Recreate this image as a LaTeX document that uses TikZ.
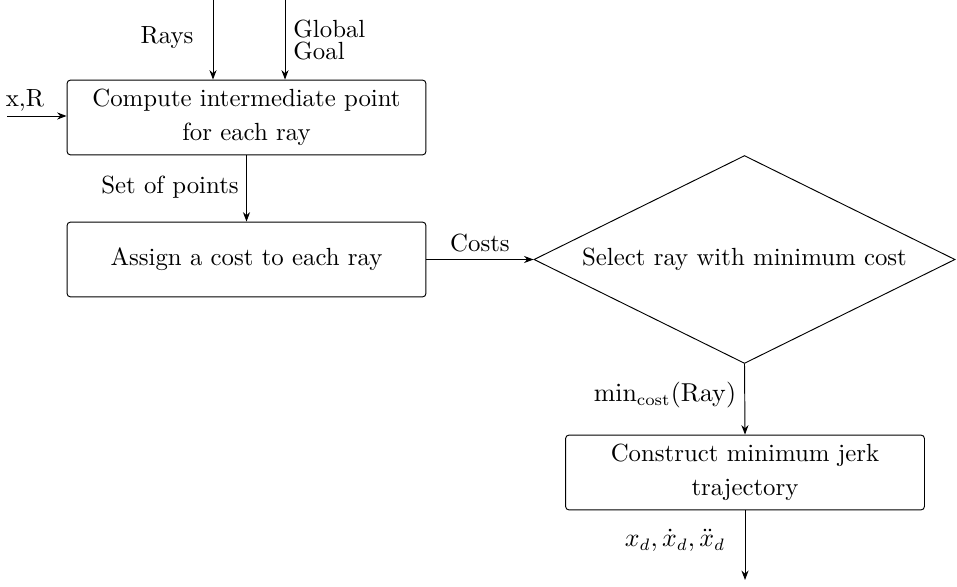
\documentclass[tikz,border=0pt]{standalone}
\usetikzlibrary{shapes.geometric,arrows.meta}
\begin{document}
\begin{tikzpicture}[x=0.4232pt,y=-0.4232pt,
  every node/.style={font=\fontsize{10.5}{12.6}\selectfont},
  box/.style={draw,rounded corners=1.5pt,minimum width=151.9pt,minimum height=31.7pt,align=center,inner sep=0pt},
  dec/.style={draw,diamond,minimum width=178.2pt,minimum height=88pt,inner sep=0pt,aspect=2},
  arr/.style={-{Stealth[length=4pt,width=3pt]},line width=0.4pt},
  lbl/.style={inner sep=0pt}]
\useasboundingbox (0,0) rectangle (957,587);
\node[box] (b1) at (246.5,117.5) {Compute intermediate point\\[2pt] for each ray};
\node[box] (b2) at (246.5,259.5) {Assign a cost to each ray};
\node[dec] (d) at (744.5,259.5) {Select ray with minimum cost};
\node[box] (b3) at (745,472.5) {Construct minimum jerk\\[2pt] trajectory};
\coordinate (rs) at (213,0);
\coordinate (gs) at (285,0);
\coordinate (xs) at (7,116);
\coordinate (oe) at (747,580);
\draw[arr] (rs) -- (rs |- b1.north);
\draw[arr] (gs) -- (gs |- b1.north);
\draw[arr] (xs) -- (xs -| b1.west);
\draw[arr] (b1.south) -- (b2.north);
\draw[arr] (b2.east) -- (d.west);
\draw[arr] (d.south) -- (b3.north);
\draw[arr] (b3.south) -- (b3.south |- oe);
\node[lbl] (lr) at (167,38) {Rays};
\node[lbl,align=left,anchor=west] (lg) at (293,40) {Global\\[-3.5pt]Goal};
\node[lbl] (lx) at (25,100) {x,R};
\node[lbl] (lp) at (170,187) {Set of points};
\node[lbl] (lc) at (480,243) {Costs};
\node[lbl] (lm) at (665,395) {$\min_{\mathrm{cost}}(\mathrm{Ray})$};
\node[lbl] (lo) at (675,540) {$x_d,\dot{x}_d,\ddot{x}_d$};
\end{tikzpicture}
\end{document}
